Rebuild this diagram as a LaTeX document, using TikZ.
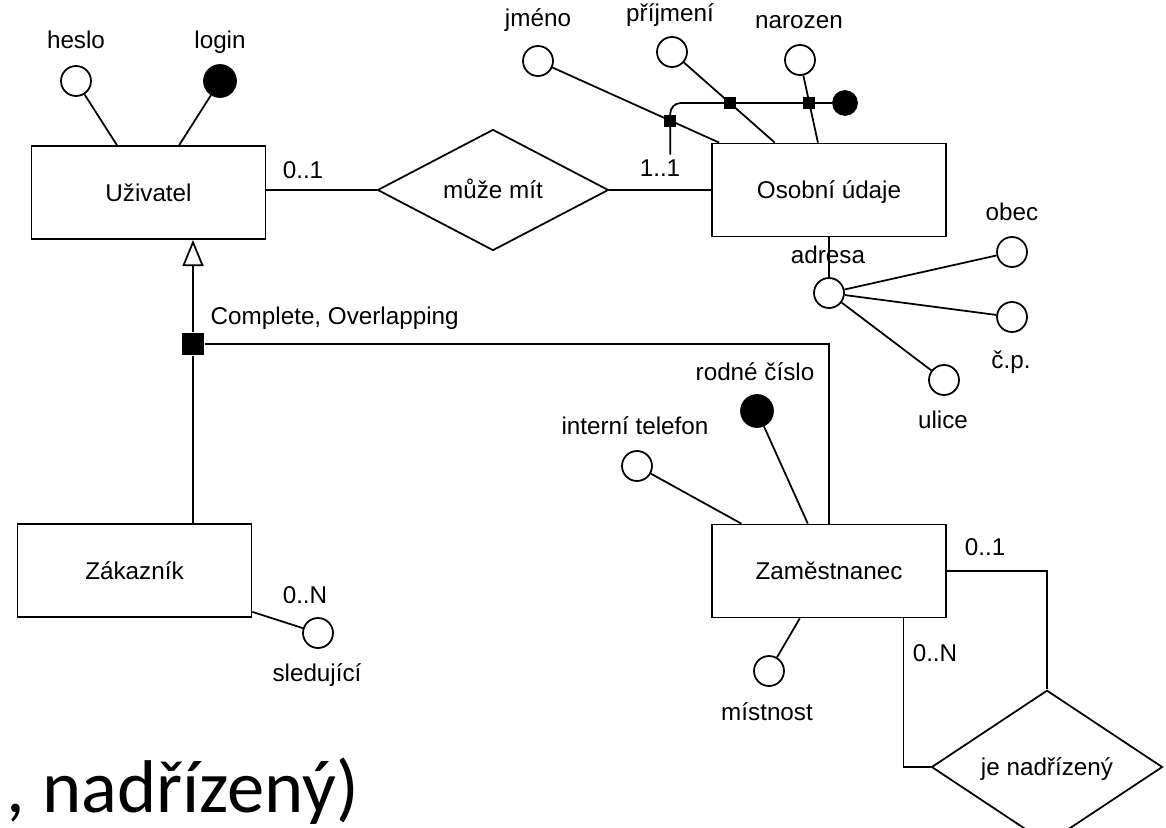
\documentclass[tikz,border=0pt]{standalone}
\usepackage{fontspec}
\setmainfont{Liberation Sans}
\newfontfamily\slidefont{Carlito}
\usetikzlibrary{shapes.geometric,arrows.meta,calc}

\tikzset{
  entity/.style={draw,rectangle,minimum width=4.68cm,minimum height=1.86cm},
  relship/.style={draw,diamond,minimum width=4.62cm,minimum height=2.3cm,inner sep=0pt},
  attr/.style={draw,circle,minimum size=0.6cm,inner sep=0pt,fill=white,text height=0pt,text depth=0pt},
  keyattr/.style={attr,fill=black,minimum size=0.64cm},
  junct/.style={rectangle,fill=black,minimum size=0.24cm,inner sep=0pt,text height=0pt,text depth=0pt},
  gentip/.style={-{Triangle[open,length=15pt,width=12pt]}}
}

\begin{document}
\begin{tikzpicture}[x=0.02cm,y=-0.02cm,line width=1pt,font=\fontsize{13.8}{16}\selectfont,
  every node/.append style={text height=2.1ex,text depth=0.2ex}]
\clip (0,0) rectangle (1166,828);
\fill[white] (0,0) rectangle (1166,828);

% entities and relationships
\node[entity] (uziv) at (148.5,192.5) {Uživatel};
\node[entity] (osob) at (829,190) {Osobní údaje};
\node[entity] (zak) at (134.5,570.5) {Zákazník};
\node[entity] (zam) at (829,571) {Zaměstnanec};
\node[relship] (muze) at (493,190) {může mít};
\node[relship] (nadr) at (1047,767) {je nadřízený};

\draw (muze.west) -- (muze.west -| uziv.east);
\draw (muze.east) -- (muze.east -| osob.west);
\node (c1) at (303,170) {0..1};
\node (c2) at (660,168) {1..1};

% Uzivatel
\node[attr] (heslo) at (76,81) {};
\node[keyattr] (login) at (220,81) {};
\node (heslo-t) at (76,40) {heslo};
\node (login-t) at (220,40) {login};
\draw (heslo) -- ($(uziv.north west)!0.366!(uziv.north east)$);
\draw (login) -- ($(uziv.north west)!0.63!(uziv.north east)$);

% Osobni udaje
\coordinate (a1) at ($(osob.north west)!0.034!(osob.north east)$);
\coordinate (a2) at ($(osob.north west)!0.27!(osob.north east)$);
\coordinate (a3) at ($(osob.north west)!0.453!(osob.north east)$);
\node[attr] (jmeno) at (538,61) {};
\node[attr] (prijm) at (672,52) {};
\node[attr] (naroz) at (800,60) {};
\node (jmeno-t) at (538,18) {jméno};
\node (prijm-t) at (670,13) {příjmení};
\node (naroz-t) at (799,20) {narozen};
\draw (jmeno) -- (a1);
\draw (prijm) -- (a2);
\draw (naroz) -- (a3);
\node[junct] (j1) at ($(jmeno)!0.73!(a1)$) {};
\node[junct] (j2) at ($(prijm)!0.56!(a2)$) {};
\node[junct] (j3) at ($(naroz)!0.518!(a3)$) {};
\node[keyattr,minimum size=0.48cm] (idkey) at (845,103) {};
\draw[rounded corners=6pt] (idkey.west) -- (idkey.west -| j1) -- ($(j1)+(0,34)$);

\node[attr] (adresa) at (829,293) {};
\draw (osob.south) -- (adresa);
\node (adresa-t) at (828,255) {adresa};
\node[attr] (obec) at (1012,252) {};
\node[attr] (cp) at (1012,317) {};
\node[attr] (ulice) at (944,380) {};
\node (obec-t) at (1012,212) {obec};
\node (cp-t) at (1011,360) {č.p.};
\node (ulice-t) at (943,420) {ulice};
\foreach \s in {obec,cp,ulice}
  \draw (adresa) -- (\s);

% generalizace
\node[junct,minimum size=0.44cm] (gen) at (193,344) {};
\draw[gentip] (gen) -- (gen |- uziv.south);
\draw (gen) -- (gen |- zak.north);
\draw (gen) -| (zam.north);
\node[anchor=west] (gen-t) at (204,316) {Complete, Overlapping};

% Zakaznik
\node[attr] (sled) at (318,633) {};
\draw ($(zak.south east)+(0,-6)$) -- (sled);
\node (sled-c) at (305,595) {0..N};
\node (sled-t) at (317,673) {sledující};

% Zamestnanec
\node[attr] (tel) at (637,466) {};
\node[keyattr] (rc) at (757,411) {};
\node[attr] (mist) at (769,671) {};
\node (tel-t) at (635,426) {interní telefon};
\node (rc-t) at (755,372) {rodné číslo};
\node (mist-t) at (767,712) {místnost};
\draw (tel) -- ($(zam.north west)!0.128!(zam.north east)$);
\draw (rc) -- ($(zam.north west)!0.41!(zam.north east)$);
\draw (mist) -- ($(zam.south west)!0.376!(zam.south east)$);

\draw (zam.east) -| (nadr.north);
\draw (nadr.west) -| ($(zam.south west)!0.816!(zam.south east)$);
\node (n1) at (985,547) {0..1};
\node (n2) at (935,653) {0..N};

\node[anchor=base west,inner sep=0pt,text height=,text depth=,font=\slidefont\fontsize{42.5}{50}\selectfont] (tail) at (6,812) {, nadřízený)};
\end{tikzpicture}
\end{document}
